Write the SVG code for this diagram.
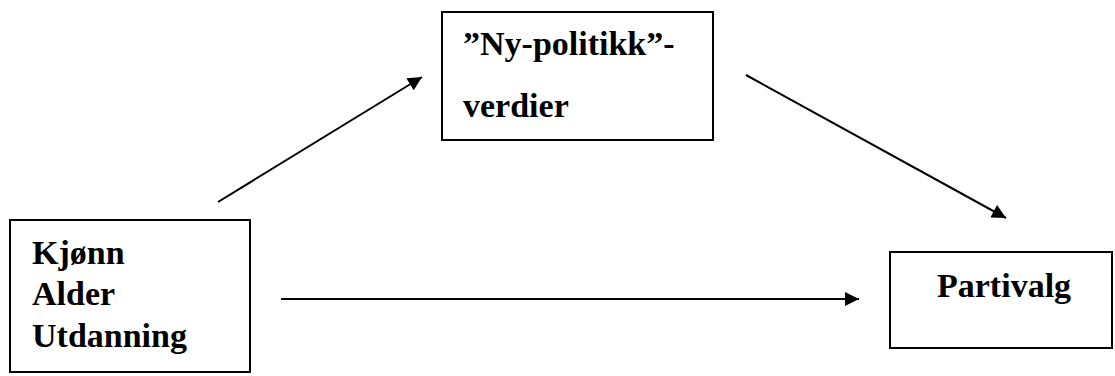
<svg xmlns="http://www.w3.org/2000/svg" width="1115" height="376" viewBox="0 0 1115 376">
<style>
.box{fill:#fff;stroke:#000;stroke-width:2}
.t{font-family:"Liberation Serif","Times New Roman",serif;font-weight:bold;font-size:34px;fill:#000}
.c{stroke:#000;stroke-width:2;fill:none;marker-end:url(#ah)}
</style>
<defs>
<marker id="ah" viewBox="0 0 10 10" refX="10" refY="5" markerWidth="9" markerHeight="7" markerUnits="strokeWidth" orient="auto">
<path d="M0,0 L10,5 L0,10 Z" fill="#000"/>
</marker>
</defs>
<rect width="1115" height="376" fill="#fff"/>
<g id="connectors">
<line class="c" x1="218" y1="202" x2="422" y2="77"/>
<line class="c" x1="746" y1="75" x2="1006" y2="218"/>
<line class="c" x1="281" y1="299" x2="859" y2="299"/>
</g>
<g id="node-demografi">
<rect class="box" x="10" y="220" width="240" height="152"/>
<text class="t" x="32" y="264">Kjønn</text>
<text class="t" x="32" y="305">Alder</text>
<text class="t" x="32" y="347">Utdanning</text>
</g>
<g id="node-nypolitikk">
<rect class="box" x="442" y="12" width="271" height="128"/>
<text class="t" x="463" y="55">”Ny-politikk”-</text>
<text class="t" x="463" y="117">verdier</text>
</g>
<g id="node-partivalg">
<rect class="box" x="890" y="252" width="222" height="96"/>
<text class="t" x="937" y="297">Partivalg</text>
</g>
</svg>
